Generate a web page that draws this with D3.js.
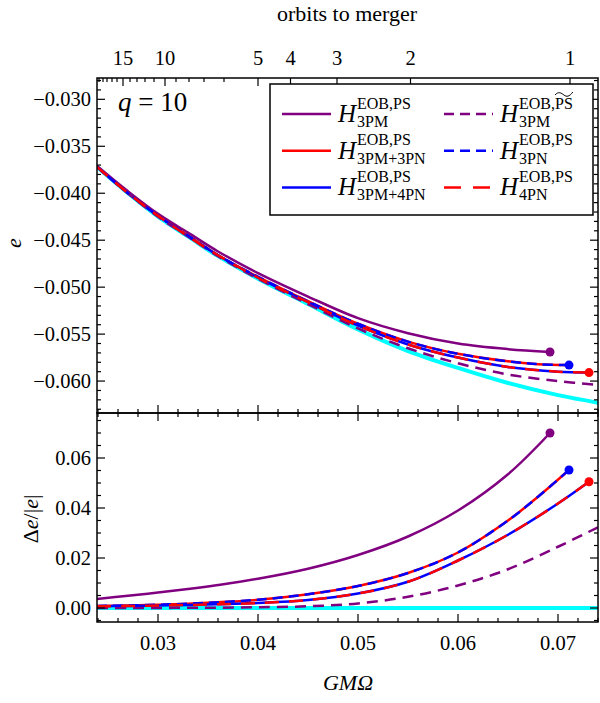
<!DOCTYPE html>
<html>
<head>
<meta charset="utf-8">
<script src="https://cdn.jsdelivr.net/npm/d3@7"></script>
<style>
  body { margin: 0; background: #fff; }
  text { font-family: "Liberation Serif", "DejaVu Serif", serif; fill: #000; }
</style>
</head>
<body>
<svg id="chartArea" width="600" height="703"></svg>
<script>
// ---- data ----
const omegaFull = [0.0239, 0.027, 0.030, 0.033, 0.036, 0.040, 0.045, 0.050, 0.055, 0.060, 0.065, 0.070, 0.074];

// e (upper panel)
const eNR          = [-0.0372, -0.0400, -0.0425, -0.0446, -0.0467, -0.0491, -0.0518, -0.0545, -0.0568, -0.0586, -0.0602, -0.0615, -0.0623];
const omega3PM     = [0.0239, 0.027, 0.030, 0.033, 0.036, 0.040, 0.045, 0.050, 0.055, 0.060, 0.065, 0.0692];
const e3PM         = [-0.0371, -0.0398, -0.0422, -0.0442, -0.0462, -0.0485, -0.0510, -0.0533, -0.0549, -0.0560, -0.0566, -0.0569];
const omega3PN     = [0.0239, 0.027, 0.030, 0.033, 0.036, 0.040, 0.045, 0.050, 0.055, 0.060, 0.065, 0.068, 0.0711];
const e3PM3PN      = [-0.0372, -0.0400, -0.0424, -0.0445, -0.0466, -0.0489, -0.0515, -0.0539, -0.0558, -0.0571, -0.0579, -0.0582, -0.0583];
const omega4PN     = [0.0239, 0.027, 0.030, 0.033, 0.036, 0.040, 0.045, 0.050, 0.055, 0.060, 0.065, 0.070, 0.0731];
const e3PM4PN      = [-0.0372, -0.0400, -0.0424, -0.0446, -0.0466, -0.0490, -0.0516, -0.0541, -0.0561, -0.0575, -0.0585, -0.0590, -0.0591];
const e3PMt        = [-0.0372, -0.0400, -0.0425, -0.0446, -0.0467, -0.0491, -0.0518, -0.0544, -0.0565, -0.0581, -0.0593, -0.0600, -0.0604];

// Δe/|e| (lower panel)
const dNR          = [0, 0, 0, 0, 0, 0, 0, 0, 0, 0, 0, 0, 0];
const d3PM         = [0.0036, 0.0049, 0.0062, 0.0076, 0.0092, 0.0117, 0.0157, 0.0212, 0.0286, 0.0390, 0.0535, 0.0700];
const d3PM3PN      = [0.0008, 0.0010, 0.0013, 0.0017, 0.0023, 0.0033, 0.0055, 0.0088, 0.0140, 0.0222, 0.0350, 0.0445, 0.0552];
const d3PM4PN      = [0.0007, 0.0008, 0.0010, 0.0012, 0.0015, 0.0020, 0.0032, 0.0058, 0.0105, 0.0190, 0.0293, 0.0418, 0.0505];
const d3PMt        = [0.0000, 0.0000, 0.0000, 0.0001, 0.0001, 0.0003, 0.0007, 0.0018, 0.0045, 0.0090, 0.0155, 0.0245, 0.0323];

// orbits-to-merger axis
const orbitMajor   = [15, 10, 5, 4, 3, 2, 1];
const orbitMajorX  = [0.0265, 0.0307, 0.0400, 0.04325, 0.0479, 0.05525, 0.0712];
const orbitMinorX  = [0.0241, 0.0245, 0.0249, 0.0254, 0.0259, 0.0272, 0.0279, 0.0287, 0.0296, 0.0318, 0.0331, 0.0346, 0.0366];

const xTicks      = [0.03, 0.04, 0.05, 0.06, 0.07];
const yTopTicks   = [-0.030, -0.035, -0.040, -0.045, -0.050, -0.055, -0.060];
const yBotTicks   = [0.00, 0.02, 0.04, 0.06];

const legendNames = ["3PM", "3PM+3PN", "3PM+4PN", "3PM~", "3PN", "4PN"];

// ---- layout ----
const svg = d3.select("#chartArea");
const left = 97, right = 598, topY = 78, midY = 413, botY = 622;

const x = d3.scaleLinear().domain([0.0239, 0.074]).range([left, right]);
const yTop = d3.scaleLinear().domain([-0.0634, -0.02773]).range([midY, topY]);
const yBot = d3.scaleLinear().domain([-0.0056, 0.078]).range([botY, midY]);

const colPurple = "#800080", colRed = "#ff0000", colBlue = "#0000ff", colCyan = "#00ffff";

function zip(xs, ys) { return ys.map((v, i) => [xs[i], v]); }

const series = [
  { top: zip(omegaFull, eNR),     bot: zip(omegaFull, dNR),     color: colCyan,   w: 4,   dash: null },
  { top: zip(omega3PM, e3PM),     bot: zip(omega3PM, d3PM),     color: colPurple, w: 2.5, dash: null,    dot: true },
  { top: zip(omega3PN, e3PM3PN),  bot: zip(omega3PN, d3PM3PN),  color: colRed,    w: 2.5, dash: null },
  { top: zip(omega4PN, e3PM4PN),  bot: zip(omega4PN, d3PM4PN),  color: colBlue,   w: 2.5, dash: null },
  { top: zip(omegaFull, e3PMt),   bot: zip(omegaFull, d3PMt),   color: colPurple, w: 2.5, dash: "11,7" },
  { top: zip(omega3PN, e3PM3PN),  bot: zip(omega3PN, d3PM3PN),  color: colBlue,   w: 2.5, dash: "10,6",  dot: true },
  { top: zip(omega4PN, e3PM4PN),  bot: zip(omega4PN, d3PM4PN),  color: colRed,    w: 2.5, dash: "14,10", dot: true }
];

svg.append("defs").append("clipPath").attr("id", "clipTop")
  .append("rect").attr("x", left).attr("y", topY).attr("width", right - left).attr("height", midY - topY);
svg.select("defs").append("clipPath").attr("id", "clipBot")
  .append("rect").attr("x", left).attr("y", midY).attr("width", right - left).attr("height", botY - midY);

function drawPanel(key, yScale, clip) {
  const g = svg.append("g").attr("clip-path", `url(#${clip})`);
  series.forEach(s => {
    const line = d3.line().x(d => x(d[0])).y(d => yScale(d[1])).curve(d3.curveCatmullRom.alpha(0.5));
    g.append("path")
      .datum(s[key])
      .attr("fill", "none")
      .attr("stroke", s.color)
      .attr("stroke-width", s.w)
      .attr("stroke-dasharray", s.dash)
      .attr("d", line);
  });
  series.filter(s => s.dot).forEach(s => {
    const last = s[key][s[key].length - 1];
    svg.append("circle")
      .attr("cx", x(last[0]))
      .attr("cy", yScale(last[1]))
      .attr("r", 4.5)
      .attr("fill", s.color);
  });
}
drawPanel("top", yTop, "clipTop");
drawPanel("bot", yBot, "clipBot");

// ---- ticks ----
const tickG = svg.append("g").attr("stroke", "#000").attr("stroke-width", 1.2);
function xTicksOn(y0, dir) {
  d3.range(0.024, 0.0741, 0.002).forEach(v => {
    const major = Math.abs(v * 100 - Math.round(v * 100)) < 1e-6;
    tickG.append("line").attr("x1", x(v)).attr("x2", x(v))
      .attr("y1", y0).attr("y2", y0 + dir * (major ? 8 : 4));
  });
}
xTicksOn(botY, -1);
xTicksOn(midY, 1);
xTicksOn(midY, -1);

function yTicksOn(scale, lo, hi, step, majorStep) {
  d3.range(lo, hi + step / 2, step).forEach(v => {
    const r = v / majorStep;
    const major = Math.abs(r - Math.round(r)) < 1e-6;
    const len = major ? 8 : 4;
    const yy = scale(v);
    if (yy < scale.range()[1] - 0.5 || yy > scale.range()[0] + 0.5) return;
    tickG.append("line").attr("x1", left).attr("x2", left + len).attr("y1", yy).attr("y2", yy);
    tickG.append("line").attr("x1", right).attr("x2", right - len).attr("y1", yy).attr("y2", yy);
  });
}
yTicksOn(yTop, -0.063, -0.028, 0.001, 0.005);
yTicksOn(yBot, -0.005, 0.075, 0.005, 0.02);

orbitMajorX.forEach(v => {
  tickG.append("line").attr("x1", x(v)).attr("x2", x(v)).attr("y1", topY).attr("y2", topY + 8);
});
orbitMinorX.forEach(v => {
  tickG.append("line").attr("x1", x(v)).attr("x2", x(v)).attr("y1", topY).attr("y2", topY + 4);
});

// frames
svg.append("rect").attr("x", left).attr("y", topY).attr("width", right - left).attr("height", midY - topY)
  .attr("fill", "none").attr("stroke", "#000").attr("stroke-width", 1.5);
svg.append("rect").attr("x", left).attr("y", midY).attr("width", right - left).attr("height", botY - midY)
  .attr("fill", "none").attr("stroke", "#000").attr("stroke-width", 1.5);

// ---- tick labels ----
const fmt3 = d3.format(".3f"), fmt2 = d3.format(".2f");
const tickFont = "20.5px";
xTicks.forEach(v => {
  svg.append("text").attr("x", x(v)).attr("y", 650).attr("text-anchor", "middle")
    .style("font-size", tickFont).text(fmt2(v));
});
yTopTicks.forEach(v => {
  svg.append("text").attr("x", left - 6).attr("y", yTop(v) + 7).attr("text-anchor", "end")
    .style("font-size", tickFont).text(fmt3(v).replace("-", "\u2212"));
});
yBotTicks.forEach(v => {
  svg.append("text").attr("x", left - 6).attr("y", yBot(v) + 7).attr("text-anchor", "end")
    .style("font-size", tickFont).text(fmt2(v));
});
orbitMajor.forEach((n, i) => {
  svg.append("text").attr("x", x(orbitMajorX[i])).attr("y", 65).attr("text-anchor", "middle")
    .style("font-size", tickFont).text(n);
});

// axis titles
svg.append("text").attr("x", 347).attr("y", 21).attr("text-anchor", "middle")
  .style("font-size", "22px").text("orbits to merger");
svg.append("text").attr("x", 348).attr("y", 690).attr("text-anchor", "middle")
  .style("font-size", "22px").style("font-style", "italic").text("GMΩ");
svg.append("text").attr("transform", "translate(21,243) rotate(-90)").attr("text-anchor", "middle")
  .style("font-size", "22px").style("font-style", "italic").text("e");
const dl = svg.append("text").attr("transform", "translate(38,519) rotate(-90)").attr("text-anchor", "middle")
  .style("font-size", "22px");
dl.append("tspan").text("Δ");
dl.append("tspan").style("font-style", "italic").text("e");
dl.append("tspan").text("/|");
dl.append("tspan").style("font-style", "italic").text("e");
dl.append("tspan").text("|");

const qt = svg.append("text").attr("x", 118).attr("y", 111).style("font-size", "27px");
qt.append("tspan").style("font-style", "italic").text("q");
qt.append("tspan").text(" = 10");

// ---- legend ----
const lg = svg.append("g");
lg.append("rect").attr("x", 270).attr("y", 84).attr("width", 323).attr("height", 131)
  .attr("fill", "#fff").attr("stroke", "#000").attr("stroke-width", 1.5);

const legendStyle = [
  { color: colPurple, dash: null },
  { color: colRed, dash: null },
  { color: colBlue, dash: null },
  { color: colPurple, dash: "10,6" },
  { color: colBlue, dash: "10,6" },
  { color: colRed, dash: "17,12" }
];
legendNames.forEach((name, i) => {
  const col = Math.floor(i / 3), row = i % 3;
  const lx = col === 0 ? 282 : 444;
  const by = 122 + row * 36.7;
  const st = legendStyle[i];
  lg.append("line").attr("x1", lx).attr("x2", lx + 49).attr("y1", by - 8).attr("y2", by - 8)
    .attr("stroke", st.color).attr("stroke-width", 2.5).attr("stroke-dasharray", st.dash);
  const tx = lx + 56;
  lg.append("text").attr("x", tx).attr("y", by).style("font-size", "25px")
    .style("font-style", "italic").text("H");
  const tilde = name.endsWith("~");
  const supY = tilde ? by - 13 : by - 13.5;
  const sup = lg.append("text").attr("x", tx + 19).attr("y", supY).style("font-size", "16px");
  sup.append("tspan").text("EOB,");
  const ps = sup.append("tspan").text("PS");
  if (tilde) {
    const full = sup.node().getComputedTextLength();
    const psw = ps.node().getComputedTextLength();
    const bx = tx + 19 + full - psw, w = psw;
    const ty = supY - 14;
    lg.append("path")
      .attr("d", `M${bx},${ty} C${bx + w * 0.2},${ty - 4} ${bx + w * 0.35},${ty - 2} ${bx + w * 0.5},${ty} C${bx + w * 0.65},${ty + 2} ${bx + w * 0.8},${ty + 2} ${bx + w},${ty - 3}`)
      .attr("fill", "none").attr("stroke", "#000").attr("stroke-width", 1);
  }
  lg.append("text").attr("x", tx + 19).attr("y", by + 5).style("font-size", "16px")
    .text(tilde ? name.slice(0, -1) : name);
});
</script>
</body>
</html>
